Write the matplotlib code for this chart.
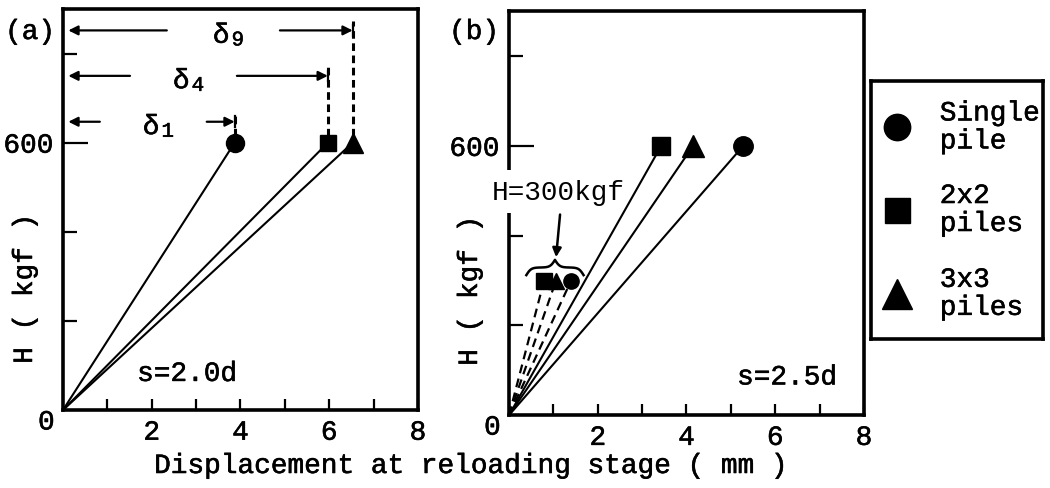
import matplotlib
matplotlib.use("Agg")
import matplotlib.pyplot as plt
import matplotlib.patheffects as pe
import numpy as np

plt.rcParams['font.family'] = ['Liberation Mono', 'DejaVu Sans Mono']

# ---- data ----
pile_names = ["Single\npile", "2x2\npiles", "3x3\npiles"]
pile_markers = ["o", "s", "^"]
H_top = 600      # kgf
H_mid = 300      # kgf

# (a) s=2.0d, displacement at H=600 (mm)
disp_a = [3.87, 5.97, 6.53]
# (b) s=2.5d
disp_b = [5.28, 3.43, 4.15]
disp_b_300 = [1.40, 0.79, 1.06]

# delta_n arrows of panel (a)  (n = number of piles)
delta_n = ["1", "4", "9"]
delta_H = [647, 750, 852]

FS = 20
# slightly heavier than regular, like the scanned typewriter text
thick = [pe.withStroke(linewidth=0.4, foreground='k')]
TXT = dict(fontsize=FS, path_effects=thick)


def setup(ax):
    ax.set_xlim(0, 8)
    ax.set_ylim(0, 900)
    for sp in ax.spines.values():
        sp.set_linewidth(2.6)
    ax.set_xticks([2, 4, 6, 8])
    ax.set_xticks([1, 3, 5, 7], minor=True)
    ax.set_yticks([600])
    ax.set_yticklabels(["600"])
    ax.set_yticks([200, 400, 800], minor=True)
    ax.tick_params(axis='x', which='both', direction='in', length=8, width=1.6,
                   labelsize=FS, pad=7)
    ax.tick_params(axis='y', which='major', direction='in', length=18, width=1.6,
                   labelsize=FS, pad=7)
    ax.tick_params(axis='y', which='minor', direction='in', length=10, width=1.6)
    for lab in ax.get_xticklabels() + ax.get_yticklabels():
        lab.set_path_effects(thick)
    ax.annotate("0", xy=(0, 0), xytext=(-6, -9), textcoords='offset points',
                ha='right', va='center', annotation_clip=False, **TXT)


def brace(x1, x2, y0, h, beta=12.0, n=60):
    t = np.linspace(0, 1, n)
    half = 1 / (1 + np.exp(-beta * t)) + 1 / (1 + np.exp(-beta * (t - 1)))
    yy = np.concatenate((half, half[-2::-1]))
    xx = np.linspace(x1, x2, len(yy))
    return xx, y0 + (yy - 0.5) * h


fig = plt.figure(figsize=(10.5, 4.89), dpi=100)
axa = fig.add_axes([0.060, 0.1595, 0.338, 0.820])
axb = fig.add_axes([0.4848, 0.149, 0.338, 0.826])
setup(axa)
setup(axb)

ms_a = [13, 12, 15]
ms_b = [14, 13.5, 16]

# ---- panel (a) ----
for x, m, s in zip(disp_a, pile_markers, ms_a):
    axa.plot([0, x], [0, H_top], color='k', lw=1.5, zorder=3)
    axa.plot([x], [H_top], marker=m, ms=s, color='k', ls='none', zorder=4)

tail_left = [0.83, 1.51, 2.34]
tail_right = [3.24, 3.92, 4.89]
arrow_kw = dict(arrowstyle='-|>', color='k', lw=1.6, mutation_scale=14,
                shrinkA=0, shrinkB=0)
for name, h, x, tl, tr in zip(delta_n, delta_H, disp_a, tail_left, tail_right):
    axa.plot([x, x], [H_top + 15, h + 22], color='k', lw=2.2, ls=(0, (2.5, 1.5)))
    axa.plot([x, x], [h - 12, h + 12], color='k', lw=1.6)
    axa.annotate('', xy=(0.12, h), xytext=(tl, h), arrowprops=arrow_kw)
    axa.annotate('', xy=(x, h), xytext=(tr, h), arrowprops=arrow_kw)
    xm = (tl + tr) / 2 - 0.05
    axa.text(xm, h - 12, "δ", ha='center', va='center', **TXT)
    axa.annotate(name, xy=(xm, h - 12), xytext=(12, -3), textcoords='offset points',
                 fontsize=15, ha='center', va='center', path_effects=thick)

axa.text(1.67, 81, "s=2.0d", ha='left', va='center', **TXT)

# ---- panel (b) ----
for x, m, s in zip(disp_b, pile_markers, ms_b):
    axb.plot([0, x], [0, H_top], color='k', lw=1.5, zorder=3)
    axb.plot([x], [H_top], marker=m, ms=s, color='k', ls='none', zorder=4)

for x, m in zip(disp_b_300, pile_markers):
    axb.plot([0, x], [0, H_mid], color='k', lw=1.6, ls=(0, (4, 2.5)), zorder=3)
    axb.plot([x], [H_mid], marker=m, ms=11, color='k', ls='none', zorder=4)

bx, by = brace(min(disp_b_300) - 0.4, max(disp_b_300) + 0.28, 312, 34)
axb.plot(bx, by, color='k', lw=1.8, zorder=3)
axb.annotate('', xy=(1.06, 352), xytext=(1.15, 447),
             arrowprops=dict(arrowstyle='-|>', color='k', lw=1.8,
                             mutation_scale=13, shrinkA=0, shrinkB=0))
hb = axb.text(-0.38, 498, "H=300kgf", ha='left', va='center',
              clip_on=False, zorder=2.8, fontsize=FS,
              bbox=dict(facecolor='white', edgecolor='none', pad=6))

axb.text(5.14, 84, "s=2.5d", ha='left', va='center', **TXT)

# ---- legend box ----
axl = fig.add_axes([0.8295, 0.3047, 0.1638, 0.5276])
axl.set_xlim(0, 1)
axl.set_ylim(0, 1)
axl.set_xticks([])
axl.set_yticks([])
for sp in axl.spines.values():
    sp.set_linewidth(2.6)
leg_ms = [19, 18, 21]
leg_y = [0.82, 0.50, 0.175]
for name, m, s, y in zip(pile_names, pile_markers, leg_ms, leg_y):
    axl.plot([0.151], [y], marker=m, ms=s, color='k', ls='none')
    axl.text(0.40, y, name, ha='left', va='center', linespacing=1.1, **TXT)

# ---- labels ----
fig.text(30 / 1050, 1 - 33 / 489, "(a)", ha='center', va='center', **TXT)
fig.text(474 / 1050, 1 - 33 / 489, "(b)", ha='center', va='center', **TXT)
fig.text(25 / 1050, 1 - 290 / 489, "H ( kgf )", rotation=90,
         ha='center', va='center', **TXT)
fig.text(470 / 1050, 1 - 292 / 489, "H ( kgf )", rotation=90,
         ha='center', va='center', **TXT)
fig.text(470 / 1050, 1 - 467 / 489, "Displacement at reloading stage ( mm )",
         ha='center', va='center', **TXT)

fig.savefig("out.png", dpi=100)
